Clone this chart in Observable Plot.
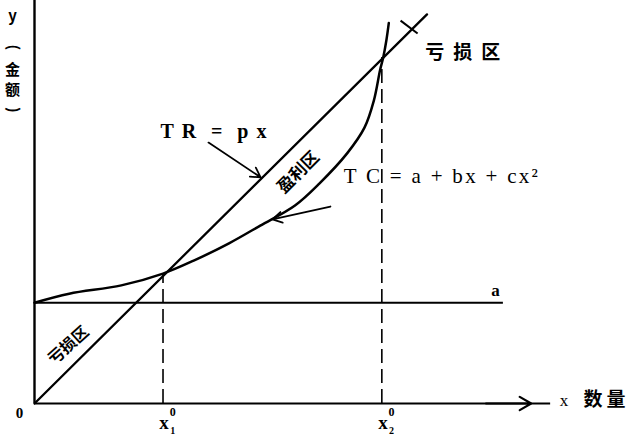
<!DOCTYPE html>
<html>
<head>
<meta charset="utf-8">
<script src="https://cdn.jsdelivr.net/npm/d3@7"></script>
<script src="https://cdn.jsdelivr.net/npm/@observablehq/plot@0.6"></script>
<style>
  html, body { margin: 0; padding: 0; background: #fff; }
  svg { display: block; }
</style>
</head>
<body>
<div id="chart"></div>
<script>
// ---- data (abstract units) ----
// total cost curve TC = a + bx + cx^2
const tcX = [0, 10, 25, 37, 46, 56, 65, 75, 82, 90, 95, 97.7, 99.5, 100.4, 101.3, 102];
const tcY = [29, 31.6, 34, 37.4, 41.2, 46.1, 51.2, 57, 63.3, 72, 79.4, 87.2, 96, 99.6, 104.5, 109.5];
// total revenue line TR = px (end points)
const trX = [0, 113];
const trY = [0, 112];
// fixed cost level a
const fixedCost = 29;
// break-even quantities and their cost levels
const breakEvenX = [37, 100];
const breakEvenY = [37.4, 99.6];
// text labels
const yAxisChars = ["y", "(", "金", "额", ")"];
const xAxisLabel = ["x", "数", "量"];
const originLabel = "0";
const breakEvenLabels = [["x", "0", "1"], ["x", "0", "2"]];
const fixedLabel = "a";
const trLabel = "T R  =  p x";
const tcLabel = "T C = a + bx + cx²";
const lossLabel = "亏损区";
const profitLabel = "盈利区";

const tc = tcX.map((x, i) => ({x, y: tcY[i]}));
const tr = trX.map((x, i) => ({x, y: trY[i]}));

const serif = "'Liberation Serif', 'DejaVu Serif', serif";
const cjk = "'Noto Sans CJK SC', sans-serif";

const chart = Plot.plot({
  width: 627,
  height: 438,
  marginLeft: 34,
  marginRight: 72,
  marginTop: 0,
  marginBottom: 35,
  x: {domain: [0, 150], axis: null},
  y: {domain: [0, 116], axis: null},
  marks: [
    // axes
    Plot.ruleX([0], {y1: 0, y2: 116, stroke: "#000", strokeWidth: 2.4}),
    Plot.ruleY([0], {x1: 0, x2: 148.6, stroke: "#000", strokeWidth: 2}),
    Plot.arrow([0], {x1: 130, y1: 0, x2: 143, y2: 0, stroke: "#000", strokeWidth: 2.2, headLength: 9}),
    // fixed cost line a
    Plot.ruleY([fixedCost], {x1: 0, x2: 135, stroke: "#000", strokeWidth: 2.2}),
    // dashed verticals at break-even points
    Plot.ruleX(breakEvenX, {y1: 0, y2: (d, i) => breakEvenY[i], stroke: "#000", strokeWidth: 1.6, strokeDasharray: "14,6"}),
    // TR line
    Plot.line(tr, {x: "x", y: "y", stroke: "#000", strokeWidth: 2.3}),
    // TC curve
    Plot.line(tc, {x: "x", y: "y", stroke: "#000", strokeWidth: 2.5, curve: "catmull-rom"}),
    // small cross mark at top of TR
    Plot.link([0], {x1: 105.4, y1: 110.2, x2: 110.3, y2: 106.5, stroke: "#000", strokeWidth: 2}),
    // pointer arrows
    Plot.arrow([0], {x1: 50.1, y1: 75.1, x2: 65.1, y2: 65.1, stroke: "#000", strokeWidth: 1.8, headLength: 9}),
    Plot.arrow([0], {x1: 85.2, y1: 56.7, x2: 68.5, y2: 53.0, stroke: "#000", strokeWidth: 1.8, headLength: 9}),
    // y axis label (vertical, parentheses turned)
    Plot.text(yAxisChars, {x: -6.3, y: [111.5, 102.5, 96, 90.2, 84.5], text: d => d, rotate: d => (d === "(" || d === ")") ? 90 : 0, fontFamily: cjk, fontSize: 15, fontWeight: "bold", fill: "#000"}),
    // origin
    Plot.text([originLabel], {x: -4.3, y: -2.9, text: d => d, fontFamily: serif, fontSize: 15, fontWeight: "bold"}),
    // x axis label
    Plot.text([xAxisLabel[0]], {x: 151.2, y: 0.9, text: d => d, fontFamily: serif, fontSize: 17, textAnchor: "start"}),
    Plot.text(xAxisLabel.slice(1), {x: [160.8, 167.4], y: 0.9, text: d => d, fontFamily: cjk, fontSize: 19, fontWeight: "bold"}),
    // break-even labels
    Plot.text(breakEvenLabels, {x: (d, i) => breakEvenX[i] + 0.3, y: -5.6, text: d => d[0], fontFamily: serif, fontSize: 19, fontWeight: "bold"}),
    Plot.text(breakEvenLabels, {x: (d, i) => breakEvenX[i] + 2.8, y: -2.5, text: d => d[1], fontFamily: serif, fontSize: 12, fontWeight: "bold"}),
    Plot.text(breakEvenLabels, {x: (d, i) => breakEvenX[i] + 2.8, y: -7.9, text: d => d[2], fontFamily: serif, fontSize: 10, fontWeight: "bold"}),
    // a
    Plot.text([fixedLabel], {x: 132.7, y: 32.5, text: d => d, fontFamily: serif, fontSize: 17, fontWeight: "bold"}),
    // TR / TC formula labels
    Plot.text([trLabel], {x: 36.3, y: 78.3, text: d => d, fontFamily: serif, fontSize: 20, fontWeight: "bold", textAnchor: "start"}),
    Plot.text([tcLabel], {x: 89, y: 65.3, text: d => d, fontFamily: serif, fontSize: 21, textAnchor: "start"}),
    // region labels
    Plot.text([lossLabel], {x: 112.5, y: 101, text: d => d, fontFamily: cjk, fontSize: 19, fontWeight: "bold", textAnchor: "start"}),
    Plot.text([profitLabel], {x: 76, y: 66.5, text: d => d, fontFamily: cjk, fontSize: 17, fontWeight: "bold", rotate: -45}),
    Plot.text([lossLabel], {x: 9.8, y: 16.7, text: d => d, fontFamily: cjk, fontSize: 16, fontWeight: "bold", rotate: -42})
  ]
});

// widen letter spacing of some labels to match the printed figure
const spacing = new Map([[tcLabel, 2.3], [trLabel, 1.6]]);
d3.select(chart).selectAll("text").each(function () {
  const t = this.textContent;
  if (spacing.has(t)) this.setAttribute("letter-spacing", spacing.get(t));
  if (t === lossLabel && !this.getAttribute("transform")?.includes("rotate")) this.setAttribute("letter-spacing", 9);
});
document.getElementById("chart").appendChild(chart);
</script>
</body>
</html>
